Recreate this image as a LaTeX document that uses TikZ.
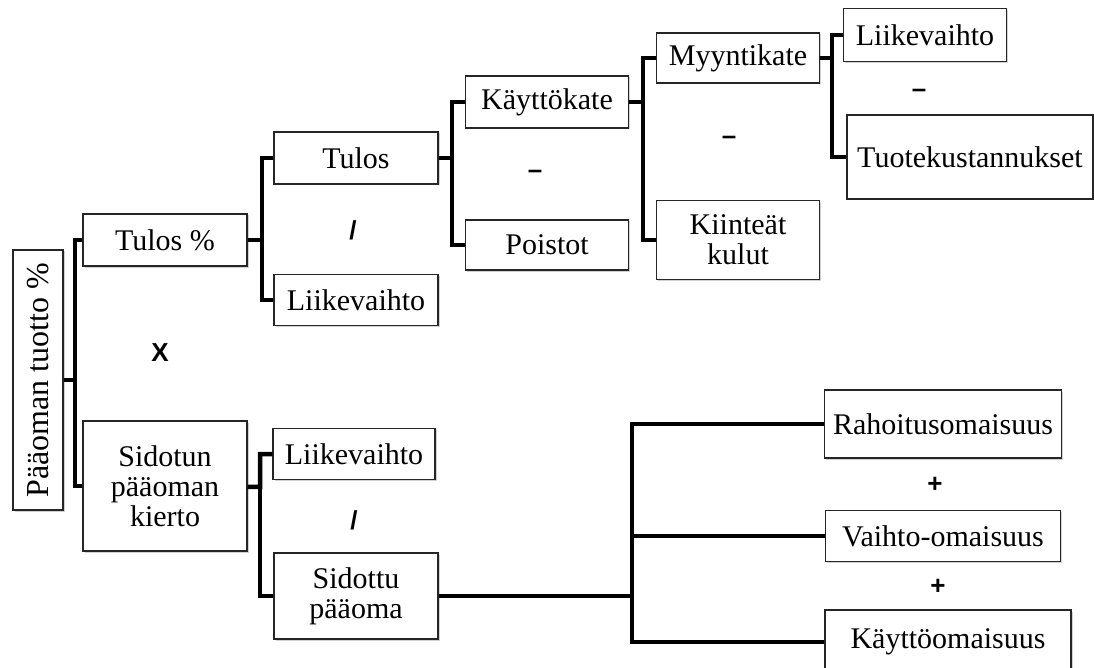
\documentclass[tikz,border=0pt]{standalone}
\usepackage{fontspec}
\setmainfont{Liberation Serif}
\newfontfamily\opfont{Liberation Sans}
\usetikzlibrary{shadows}
\begin{document}
\begin{tikzpicture}[x=1pt,y=-1pt]
        \tikzstyle{box}=[draw=black!85,line width=1.4pt,fill=white,inner sep=0pt,align=center,font=\fontsize{30}{30}\selectfont,drop shadow={shadow xshift=1.5pt,shadow yshift=-1.5pt,fill=black!35}]
        \tikzstyle{edge}=[draw,line width=4.5pt,line join=miter]
        \tikzstyle{op}=[font=\opfont\bfseries\fontsize{26}{26}\selectfont,inner sep=0pt]
        \useasboundingbox (0,0) rectangle (1094,668);
        \node [box,rotate=90,minimum width=260,minimum height=50,font=\fontsize{32}{32}\selectfont] (roe) at (38,380) {Pääoman tuotto \%};
        \node [box,minimum width=164,minimum height=52] (tulosp) at (165,240) {Tulos \%};
        \node [box,minimum width=164,minimum height=130] (sidotun) at (165,486) {Sidotun\\pääoman\\kierto};
        \node [box,minimum width=164,minimum height=52] (tulos) at (356,158) {Tulos};
        \node [box,minimum width=164,minimum height=51] (lv1) at (356,300) {Liikevaihto};
        \node [box,minimum width=163,minimum height=52] (kate) at (547,102) {Käyttökate};
        \node [box,minimum width=163,minimum height=50] (poistot) at (547,245) {Poistot};
        \node [box,minimum width=163,minimum height=50] (myynti) at (738,58) {Myyntikate};
        \node [box,minimum width=163,minimum height=79] (kiinteat) at (738,240) {Kiinteät\\kulut};
        \node [box,minimum width=163,minimum height=53] (lv2) at (925,35) {Liikevaihto};
        \node [box,minimum width=246,minimum height=84] (tuote) at (970,157) {Tuotekustannukset};
        \node [box,minimum width=162,minimum height=51] (lv3) at (354,454) {Liikevaihto};
        \node [box,minimum width=164,minimum height=86] (sidottu) at (356,596) {Sidottu\\pääoma};
        \node [box,minimum width=237,minimum height=68] (rahoitus) at (943,424) {Rahoitusomaisuus};
        \node [box,minimum width=235,minimum height=51] (vaihto) at (943,536) {Vaihto-omaisuus};
        \node [box,minimum width=246,minimum height=64] (kaytto) at (948,642) {Käyttöomaisuus};
        \coordinate (j0) at (75,380);
        \coordinate (j1) at (262,240);
        \coordinate (j2) at (452,158);
        \coordinate (j3) at (643,102);
        \coordinate (j4) at (832,58);
        \coordinate (j5) at (260,487);
        \coordinate (j6) at (632,596);
        \path[edge] (roe) -- (j0) |- (tulosp);
        \path[edge] (j0) |- (sidotun);
        \path[edge] (tulosp) -- (j1) |- (tulos);
        \path[edge] (j1) |- (lv1);
        \path[edge] (tulos) -- (j2) |- (kate);
        \path[edge] (j2) |- (poistot);
        \path[edge] (kate) -- (j3) |- (myynti);
        \path[edge] (j3) |- (kiinteat);
        \path[edge] (myynti) -- (j4) |- (lv2.west);
        \path[edge] (j4) |- (tuote);
        \path[edge] (sidotun) -- (j5) |- (lv3);
        \path[edge] (j5) |- (sidottu);
        \path[edge] (sidottu) -- (j6) |- (rahoitus);
        \path[edge] (j6) |- (vaihto);
        \path[edge] (j6) |- (kaytto);
        \node [op] (times) at (160,353) {X};
        \node [op] (div1) at (353,230) {/};
        \node [op] (min1) at (535,174) {–};
        \node [op] (min2) at (729,140) {–};
        \node [op] (min3) at (919,93) {–};
        \node [op] (div2) at (354,520) {/};
        \node [op] (plus1) at (935,485) {+};
        \node [op] (plus2) at (938,587) {+};
      \end{tikzpicture}
\end{document}
